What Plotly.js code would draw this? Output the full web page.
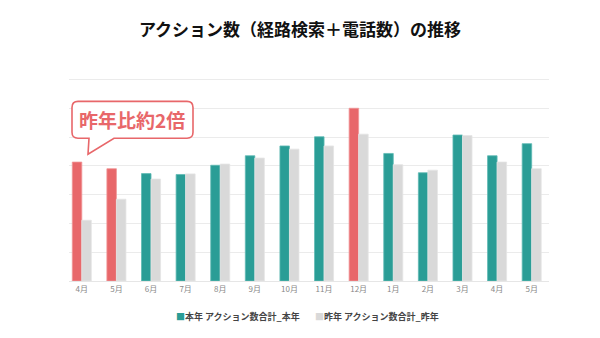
<!DOCTYPE html>
<html>
<head>
<meta charset="utf-8">
<script src="https://cdn.plot.ly/plotly-3.0.1.min.js"></script>
<style>
html,body{margin:0;padding:0;background:#fff;}
#chart{width:600px;height:338px;}
</style>
</head>
<body>
<div id="chart"></div>
<script>
// ---- data ----
const months = ["4月","5月","6月","7月","8月","9月","10月","11月","12月","1月","2月","3月","4月","5月"];
const thisYear = [413, 390, 373, 370, 402, 435, 469, 501, 600, 443, 376, 507, 435, 477];
const lastYear = [211, 284, 354, 372, 406, 427, 458, 469, 510, 404, 385, 505, 413, 390];
const highlighted = [true, true, false, false, false, false, false, false, true, false, false, false, false, false];
const seriesNames = ["本年 アクション数合計_本年", "昨年 アクション数合計_昨年"];
const calloutText = "昨年比約2倍";

// ---- styles ----
const TEAL = "#2a9d96", RED = "#e8676a", GRAY = "#d9d9d9";
const FONT = "'Noto Sans CJK JP', 'Noto Sans', sans-serif";

// plot area in pixels
const YMAX = 712;
const L = 69, R = 549, B = 281;
const T = B - (B - 79) * YMAX / 700;
const W = 600, H = 338;
const px = x => (x - L) / (R - L);
const py = y => (B - y) / (B - T);

// callout path (rounded rect with tail)
function callout(x0, y0, x1, y1, r, tx0, tx1, tipX, tipY) {
  const P = (x, y) => px(x).toFixed(5) + "," + py(y).toFixed(5);
  return "M" + P(x0 + r, y0) +
    " L" + P(x1 - r, y0) + " Q" + P(x1, y0) + " " + P(x1, y0 + r) +
    " L" + P(x1, y1 - r) + " Q" + P(x1, y1) + " " + P(x1 - r, y1) +
    " L" + P(tx1, y1) + " L" + P(tipX, tipY) + " L" + P(tx0, y1) +
    " L" + P(x0 + r, y1) + " Q" + P(x0, y1) + " " + P(x0, y1 - r) +
    " L" + P(x0, y0 + r) + " Q" + P(x0, y0) + " " + P(x0 + r, y0) + " Z";
}

const xs = months.map((m, i) => i);

const traces = [
  {
    type: "bar", name: seriesNames[0], x: xs, y: thisYear,
    marker: {
      color: highlighted.map(h => h ? RED : TEAL),
      line: {color: highlighted.map(h => h ? "#f09597" : "#5fbab4"), width: 0.8}
    },
    hoverinfo: "skip", showlegend: false
  },
  {
    type: "bar", name: seriesNames[1], x: xs, y: lastYear,
    marker: {color: GRAY, line: {color: "#e4e4e4", width: 0.8}},
    hoverinfo: "skip", showlegend: false
  }
];

const legendFont = {family: FONT, size: 9, color: "#444"};

const layout = {
  width: W, height: H,
  paper_bgcolor: "#fff", plot_bgcolor: "#fff",
  margin: {l: L, r: W - R, t: T, b: H - B},
  barmode: "group", bargap: 0.45, bargroupgap: 0,
  showlegend: false,
  font: {family: FONT, color: "#333"},
  title: {
    text: "<b>アクション数（経路検索＋電話数）の推移</b>",
    font: {family: FONT, size: 17, color: "#111"},
    x: 0.5, xanchor: "center", y: 1 - 30 / H, yanchor: "middle"
  },
  xaxis: {
    range: [-0.37, 13.5], tickmode: "array", tickvals: xs, ticktext: months,
    tickfont: {size: 8, color: "#888", family: FONT},
    showgrid: false, zeroline: false, showline: true, linecolor: "#e6e6e6", linewidth: 1,
    ticks: "", fixedrange: true
  },
  yaxis: {
    range: [0, YMAX], dtick: 100, showticklabels: false,
    gridcolor: "#ebebeb", gridwidth: 1, zeroline: false, fixedrange: true
  },
  shapes: [
    {
      type: "path", xref: "paper", yref: "paper",
      path: callout(72, 101, 193, 138, 6, 89, 114, 88, 154),
      fillcolor: "#ffffff", line: {color: RED, width: 1.6}, layer: "above"
    }
  ],
  annotations: [
    {
      xref: "paper", yref: "paper", x: px(132), y: py(119.5),
      xanchor: "center", yanchor: "middle", showarrow: false,
      text: "<b>" + calloutText + "</b>",
      font: {family: FONT, size: 19, color: RED}
    },
    {
      xref: "paper", yref: "paper", x: px(238), y: py(317),
      xanchor: "center", yanchor: "middle", showarrow: false,
      text: "<span style='color:" + TEAL + "'>■</span><b>" + seriesNames[0] + "</b>",
      font: legendFont
    },
    {
      xref: "paper", yref: "paper", x: px(377), y: py(317),
      xanchor: "center", yanchor: "middle", showarrow: false,
      text: "<span style='color:" + GRAY + "'>■</span><b>" + seriesNames[1] + "</b>",
      font: legendFont
    }
  ]
};

Plotly.newPlot("chart", traces, layout, {displayModeBar: false, staticPlot: true});
</script>
</body>
</html>
